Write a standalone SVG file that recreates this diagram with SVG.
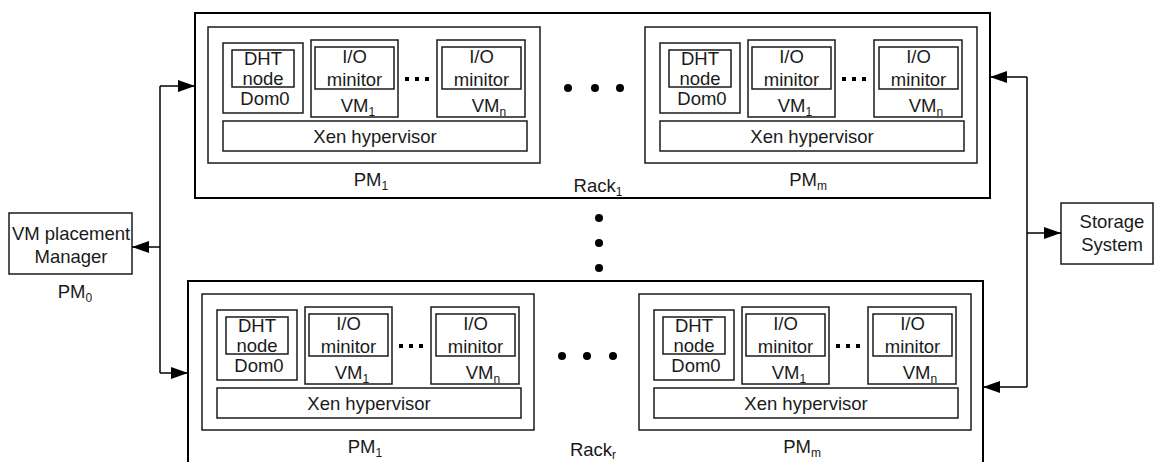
<svg xmlns="http://www.w3.org/2000/svg" width="1154" height="462" viewBox="0 0 1154 462">
<defs>
<style>
.b{fill:#fff;stroke:#1a1a1a;stroke-width:1.5}
.rk{fill:#fff;stroke:#000;stroke-width:2}
.t{font-family:"Liberation Sans",Arial,sans-serif;font-size:18.5px;fill:#1a1a1a;text-anchor:middle}
.s{font-size:12px}
.c{fill:none;stroke:#000;stroke-width:1.5}
.d{fill:#000}
</style>
<marker id="ah" markerUnits="userSpaceOnUse" markerWidth="18" markerHeight="12" refX="17" refY="6" orient="auto">
<path d="M0,0 L17,6 L0,12 Z" fill="#000"/>
</marker>
</defs>

<g id="rack1">
<rect class="rk" x="195" y="13" width="795" height="185"/>
<text class="t" x="598" y="192">Rack<tspan class="s" dy="4">1</tspan></text>
<circle class="d" cx="568" cy="88" r="4"/><circle class="d" cx="595" cy="88" r="4"/><circle class="d" cx="620" cy="88" r="4"/>
</g>

<g id="rackr">
<rect class="rk" x="188" y="281" width="795" height="200"/>
<text class="t" x="593" y="456">Rack<tspan class="s" dy="3">r</tspan></text>
<circle class="d" cx="562" cy="356" r="4"/><circle class="d" cx="587" cy="356" r="4"/><circle class="d" cx="613" cy="356" r="4"/>
</g>

<g id="vdots">
<circle class="d" cx="599" cy="218" r="4"/><circle class="d" cx="599" cy="243" r="4"/><circle class="d" cx="599" cy="268" r="4"/>
</g>

<g id="pm1-top" transform="translate(208,27)">
<rect class="b" x="0" y="0" width="332" height="136"/>
<rect class="b" x="15" y="16" width="80" height="70"/>
<rect class="b" x="24" y="23" width="62" height="37"/>
<text class="t" x="55" y="38">DHT</text><text class="t" x="55" y="58">node</text><text class="t" x="57" y="78">Dom0</text>
<rect class="b" x="103" y="13" width="87" height="77"/>
<rect class="b" x="107" y="20" width="79" height="42"/>
<text class="t" x="146.5" y="36">I/O</text><text class="t" x="146.5" y="59">minitor</text>
<text class="t" x="150" y="85">VM<tspan class="s" dy="4">1</tspan></text>
<rect class="d" x="197" y="50" width="4" height="4"/><rect class="d" x="207" y="50" width="4" height="4"/><rect class="d" x="217" y="50" width="4" height="4"/>
<rect class="b" x="229" y="13" width="88" height="77"/>
<rect class="b" x="234" y="20" width="79" height="42"/>
<text class="t" x="273.5" y="36">I/O</text><text class="t" x="273.5" y="59">minitor</text>
<text class="t" x="281" y="85">VM<tspan class="s" dy="4">n</tspan></text>
<rect class="b" x="15" y="94" width="304" height="30"/>
<text class="t" x="167" y="116">Xen hypervisor</text>
<text class="t" x="163" y="159">PM<tspan class="s" dy="4">1</tspan></text>
</g>

<g id="pmm-top" transform="translate(645,27)">
<rect class="b" x="0" y="0" width="332" height="136"/>
<rect class="b" x="15" y="16" width="80" height="70"/>
<rect class="b" x="24" y="23" width="62" height="37"/>
<text class="t" x="55" y="38">DHT</text><text class="t" x="55" y="58">node</text><text class="t" x="57" y="78">Dom0</text>
<rect class="b" x="103" y="13" width="87" height="77"/>
<rect class="b" x="107" y="20" width="79" height="42"/>
<text class="t" x="146.5" y="36">I/O</text><text class="t" x="146.5" y="59">minitor</text>
<text class="t" x="150" y="85">VM<tspan class="s" dy="4">1</tspan></text>
<rect class="d" x="197" y="50" width="4" height="4"/><rect class="d" x="207" y="50" width="4" height="4"/><rect class="d" x="217" y="50" width="4" height="4"/>
<rect class="b" x="229" y="13" width="88" height="77"/>
<rect class="b" x="234" y="20" width="79" height="42"/>
<text class="t" x="273.5" y="36">I/O</text><text class="t" x="273.5" y="59">minitor</text>
<text class="t" x="281" y="85">VM<tspan class="s" dy="4">n</tspan></text>
<rect class="b" x="15" y="94" width="304" height="30"/>
<text class="t" x="167" y="116">Xen hypervisor</text>
<text class="t" x="163" y="159">PM<tspan class="s" dy="4">m</tspan></text>
</g>

<g id="pm1-bottom" transform="translate(202,294)">
<rect class="b" x="0" y="0" width="332" height="136"/>
<rect class="b" x="15" y="16" width="80" height="70"/>
<rect class="b" x="24" y="23" width="62" height="37"/>
<text class="t" x="55" y="38">DHT</text><text class="t" x="55" y="58">node</text><text class="t" x="57" y="78">Dom0</text>
<rect class="b" x="103" y="13" width="87" height="77"/>
<rect class="b" x="107" y="20" width="79" height="42"/>
<text class="t" x="146.5" y="36">I/O</text><text class="t" x="146.5" y="59">minitor</text>
<text class="t" x="150" y="85">VM<tspan class="s" dy="4">1</tspan></text>
<rect class="d" x="197" y="50" width="4" height="4"/><rect class="d" x="207" y="50" width="4" height="4"/><rect class="d" x="217" y="50" width="4" height="4"/>
<rect class="b" x="229" y="13" width="88" height="77"/>
<rect class="b" x="234" y="20" width="79" height="42"/>
<text class="t" x="273.5" y="36">I/O</text><text class="t" x="273.5" y="59">minitor</text>
<text class="t" x="281" y="85">VM<tspan class="s" dy="4">n</tspan></text>
<rect class="b" x="15" y="94" width="304" height="30"/>
<text class="t" x="167" y="116">Xen hypervisor</text>
<text class="t" x="163" y="159">PM<tspan class="s" dy="4">1</tspan></text>
</g>

<g id="pmm-bottom" transform="translate(639,294)">
<rect class="b" x="0" y="0" width="332" height="136"/>
<rect class="b" x="15" y="16" width="80" height="70"/>
<rect class="b" x="24" y="23" width="62" height="37"/>
<text class="t" x="55" y="38">DHT</text><text class="t" x="55" y="58">node</text><text class="t" x="57" y="78">Dom0</text>
<rect class="b" x="103" y="13" width="87" height="77"/>
<rect class="b" x="107" y="20" width="79" height="42"/>
<text class="t" x="146.5" y="36">I/O</text><text class="t" x="146.5" y="59">minitor</text>
<text class="t" x="150" y="85">VM<tspan class="s" dy="4">1</tspan></text>
<rect class="d" x="197" y="50" width="4" height="4"/><rect class="d" x="207" y="50" width="4" height="4"/><rect class="d" x="217" y="50" width="4" height="4"/>
<rect class="b" x="229" y="13" width="88" height="77"/>
<rect class="b" x="234" y="20" width="79" height="42"/>
<text class="t" x="273.5" y="36">I/O</text><text class="t" x="273.5" y="59">minitor</text>
<text class="t" x="281" y="85">VM<tspan class="s" dy="4">n</tspan></text>
<rect class="b" x="15" y="94" width="304" height="30"/>
<text class="t" x="167" y="116">Xen hypervisor</text>
<text class="t" x="163" y="159">PM<tspan class="s" dy="4">m</tspan></text>
</g>

<g id="manager">
<rect class="b" x="9" y="213" width="123" height="61"/>
<text class="t" x="71" y="240">VM placement</text>
<text class="t" x="71" y="263">Manager</text>
<text class="t" x="75" y="298">PM<tspan class="s" dy="4">0</tspan></text>
</g>

<g id="storage">
<rect class="b" x="1061" y="203" width="92" height="61"/>
<text class="t" x="1112" y="228">Storage</text>
<text class="t" x="1112" y="251">System</text>
</g>

<g id="connectors">
<path class="c" d="M160,86 V373"/>
<path class="c" d="M160,86 H195" marker-end="url(#ah)"/>
<path class="c" d="M160,247 H132" marker-end="url(#ah)"/>
<path class="c" d="M160,373 H188" marker-end="url(#ah)"/>
<path class="c" d="M1027,77 V387"/>
<path class="c" d="M1027,77 H990" marker-end="url(#ah)"/>
<path class="c" d="M1027,233 H1061" marker-end="url(#ah)"/>
<path class="c" d="M1027,387 H983" marker-end="url(#ah)"/>
</g>
</svg>
